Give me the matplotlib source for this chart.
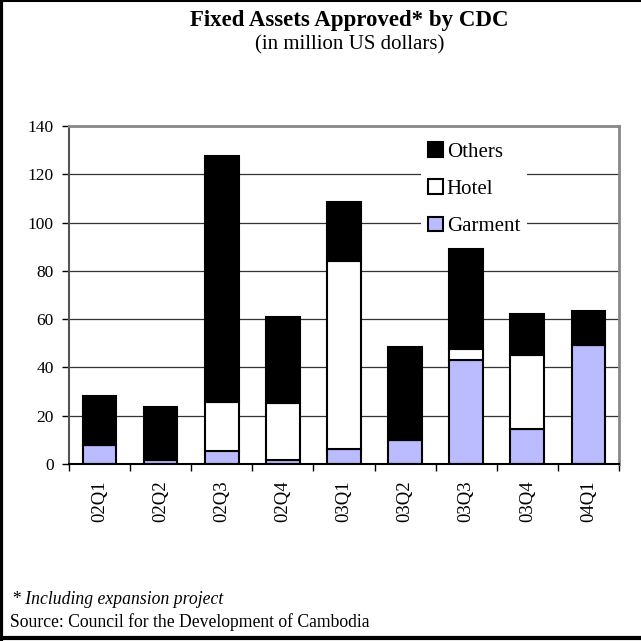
import matplotlib.pyplot as plt
import numpy as np
from matplotlib.lines import Line2D

# Fixed assets approved by CDC, million US dollars
quarters = ['02Q1', '02Q2', '02Q3', '02Q4', '03Q1', '03Q2', '03Q3', '03Q4', '04Q1']
garment = [8.0, 1.8, 5.5, 1.5, 6.3, 10.0, 43.2, 14.5, 49.4]
hotel = [0.0, 0.0, 20.2, 23.7, 77.6, 0.0, 4.5, 30.7, 0.0]
others = [20.0, 21.8, 102.0, 35.9, 24.8, 38.5, 41.4, 17.1, 14.0]

plt.rcParams['font.family'] = 'Liberation Serif'

fig = plt.figure(figsize=(6.41, 6.41), dpi=100)
ax = fig.add_axes([0.1076, 0.2761, 0.858, 0.5273])

x = np.arange(len(quarters))
g = np.array(garment)
h = np.array(hotel)
o = np.array(others)
w = 0.55
ax.set_axisbelow(True)
b1 = ax.bar(x, g, w, color='#BBBBFF', edgecolor='black', linewidth=1.5)
b2 = ax.bar(x, h, w, bottom=g, color='white', edgecolor='black', linewidth=1.5)
b3 = ax.bar(x, o, w, bottom=g + h, color='black', edgecolor='black', linewidth=1.5)

ax.set_xlim(-0.5, len(quarters) - 0.5)
ax.set_ylim(0, 140)
ax.set_yticks(range(0, 141, 20))
ax.yaxis.grid(True, color='#333333', linewidth=0.9)
ax.set_xticks(x)
ax.set_xticklabels(quarters, rotation=90, fontsize=13.5)
ax.set_xticks(np.arange(-0.5, len(quarters), 1), minor=True)
ax.tick_params(axis='x', which='major', length=0, pad=12)
ax.tick_params(axis='x', which='minor', length=5, width=1, direction='out')
ax.tick_params(axis='y', labelsize=12.5, length=5, width=1, pad=6)

for s in ['top', 'right']:
    ax.spines[s].set_color('#888888')
    ax.spines[s].set_linewidth(2)
ax.spines['left'].set_color('#555555')
ax.spines['left'].set_linewidth(1.5)
ax.spines['bottom'].set_linewidth(1.5)

leg = fig.legend([b3, b2, b1], ['Others', 'Hotel', 'Garment'],
                 loc='upper left', bbox_to_anchor=(0.64, 0.806),
                 fontsize=15, frameon=True, fancybox=False,
                 edgecolor='white', facecolor='white', framealpha=1,
                 handlelength=0.7, handleheight=0.7, handletextpad=0.2,
                 labelspacing=0.85, borderpad=0.35)
leg.get_frame().set_linewidth(0)

fig.text(0.545, 0.968, 'Fixed Assets Approved* by CDC', ha='center', va='center',
         fontsize=16.5, fontweight='bold')
fig.text(0.545, 0.930, '(in million US dollars)', ha='center', va='center', fontsize=15)

fig.text(0.018, 0.064, '* Including expansion project', ha='left', va='center',
         fontsize=12.7, style='italic')
fig.text(0.016, 0.030, 'Source: Council for the Development of Cambodia', ha='left',
         va='center', fontsize=12.7)

# page frame lines (left, top and bottom)
fig.add_artist(Line2D([0.002, 0.002], [0, 1], color='black', linewidth=3,
                      transform=fig.transFigure))
fig.add_artist(Line2D([0, 1], [0.004, 0.004], color='black', linewidth=3,
                      transform=fig.transFigure))
fig.add_artist(Line2D([0, 1], [0.9985, 0.9985], color='black', linewidth=1.5,
                      transform=fig.transFigure))

fig.savefig('out.png', dpi=100)
